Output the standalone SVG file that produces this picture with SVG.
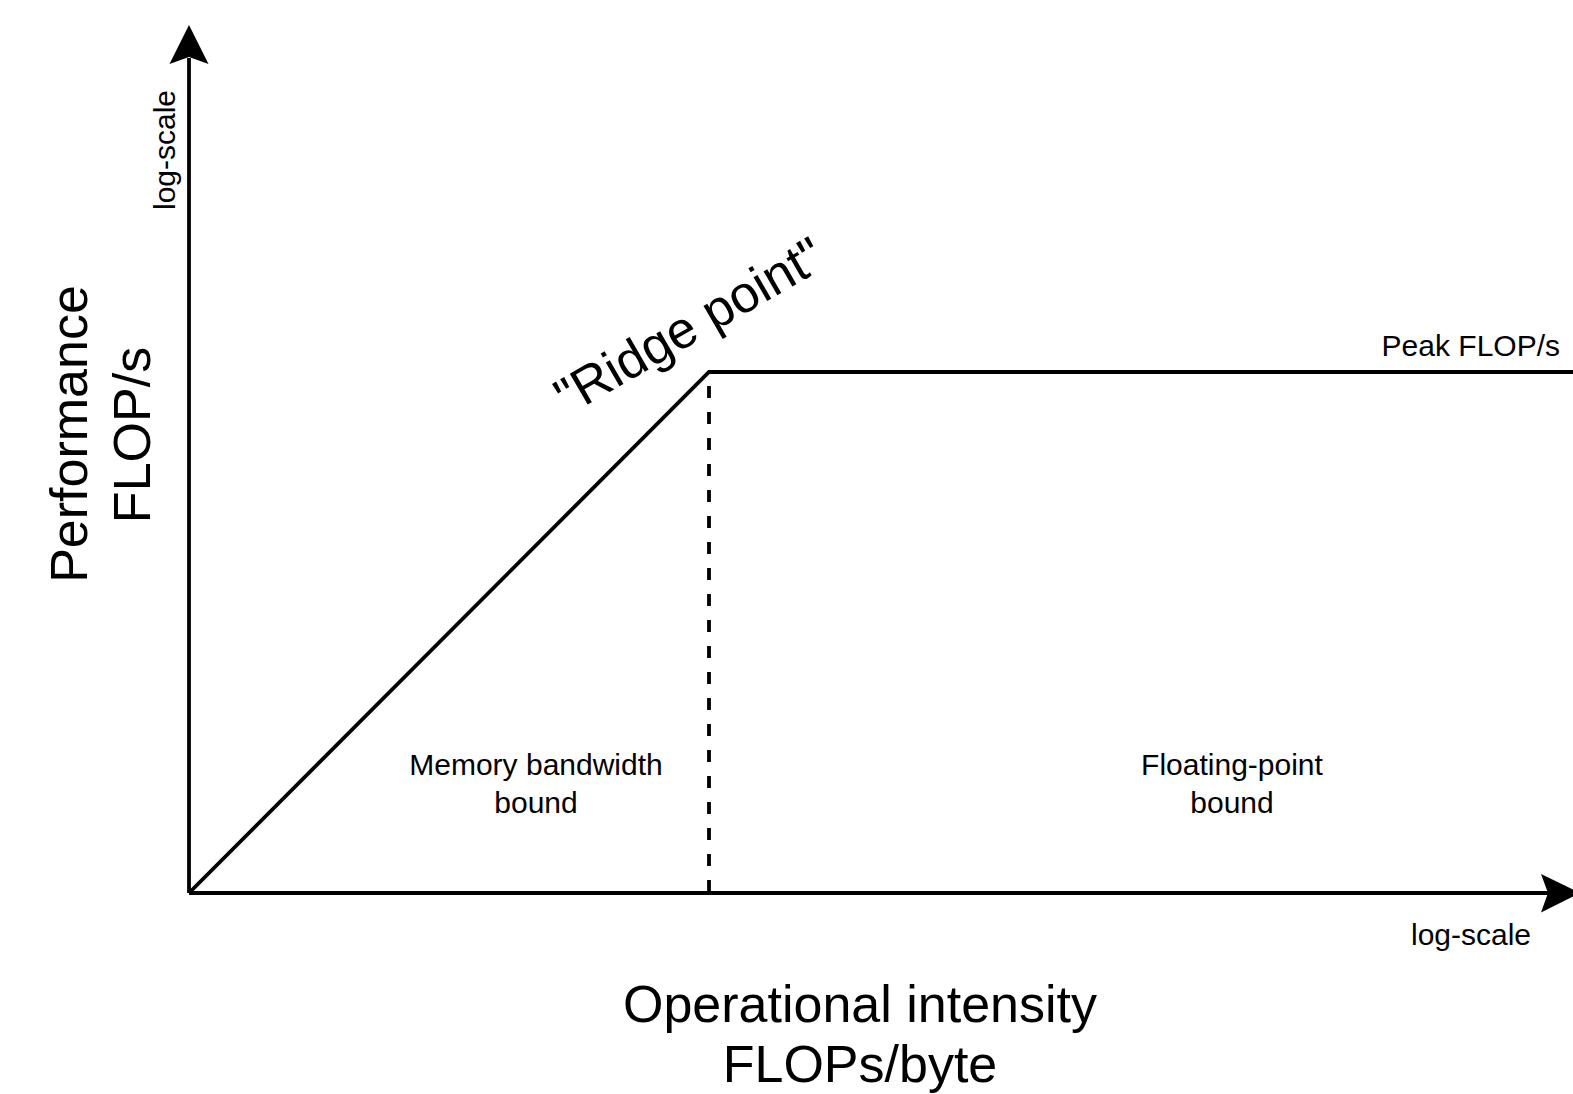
<svg xmlns="http://www.w3.org/2000/svg" width="1573" height="1094" viewBox="0 0 1573 1094">
<style>
  .ln { stroke: #000; stroke-width: 3.8; fill: none; }
  .dash { stroke-dasharray: 12 14; }
  .ah { fill: #000; stroke: none; }
  text { font-family: "Liberation Sans", Arial, Helvetica, sans-serif; fill: #000; }
  .sm { font-size: 30px; }
  .lg { font-size: 52px; }
</style>
<rect width="1573" height="1094" fill="#fff"/>
<g id="connectors">
  <line class="ln" x1="189" y1="893" x2="189" y2="58"/>
  <path class="ah" d="M189,25 L208.5,64 L189,57 L169.5,64 Z"/>
  <line class="ln" x1="189" y1="893" x2="1549" y2="893"/>
  <path class="ah" d="M1580,893 L1541,874 L1548,893 L1541,912.5 Z"/>
  <polyline class="ln" points="189,893 709,372 1573,372"/>
  <line class="ln dash" x1="709" y1="386" x2="709" y2="893"/>
</g>
<g id="y-axis-label">
  <text class="lg" text-anchor="middle" transform="translate(87,434) rotate(-90)">Performance</text>
  <text class="lg" text-anchor="middle" transform="translate(150,435) rotate(-90)">FLOP/s</text>
</g>
<g id="y-axis-scale">
  <text class="sm" text-anchor="middle" transform="translate(175,150) rotate(-90)">log-scale</text>
</g>
<g id="x-axis-label">
  <text class="lg" text-anchor="middle" x="860" y="1022">Operational intensity</text>
  <text class="lg" text-anchor="middle" x="860" y="1082">FLOPs/byte</text>
</g>
<g id="x-axis-scale">
  <text class="sm" text-anchor="middle" x="1471" y="945">log-scale</text>
</g>
<g id="ridge-point">
  <text class="lg" text-anchor="middle" transform="translate(698,341) rotate(-30)">"Ridge point"</text>
</g>
<g id="peak">
  <text class="sm" text-anchor="end" x="1560" y="356">Peak FLOP/s</text>
</g>
<g id="memory-bound">
  <text class="sm" text-anchor="middle" x="536" y="775">Memory bandwidth</text>
  <text class="sm" text-anchor="middle" x="536" y="813">bound</text>
</g>
<g id="compute-bound">
  <text class="sm" text-anchor="middle" x="1232" y="775">Floating-point</text>
  <text class="sm" text-anchor="middle" x="1232" y="813">bound</text>
</g>
</svg>
